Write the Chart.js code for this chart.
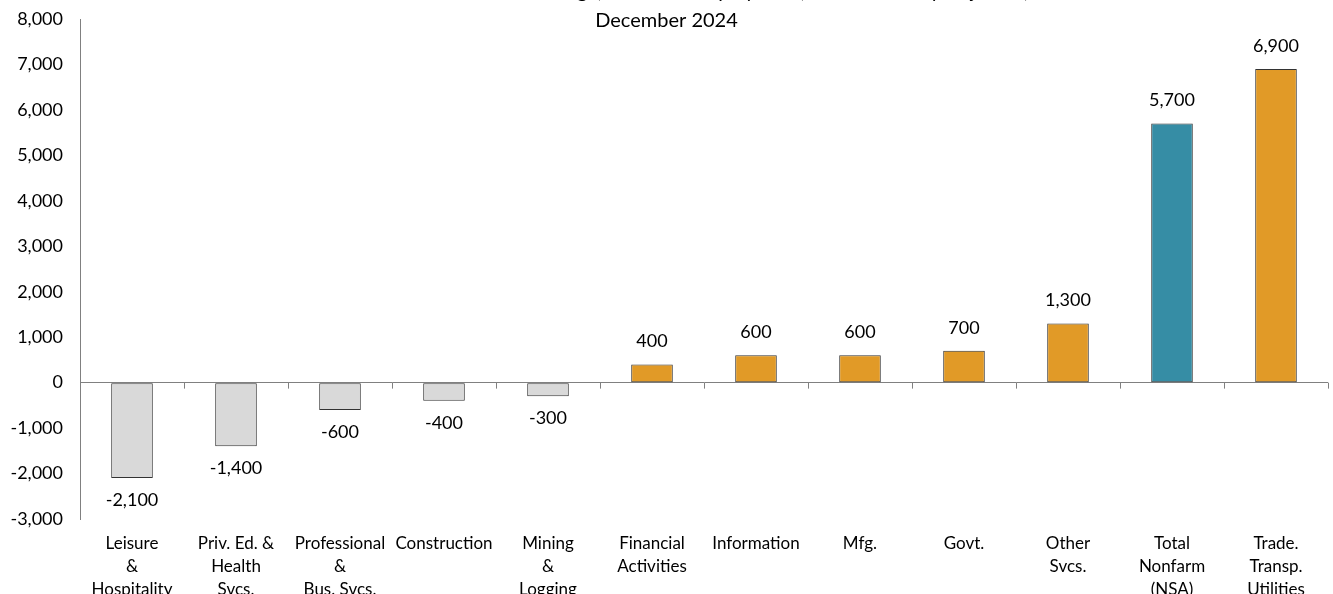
<!DOCTYPE html>
<html>
<head>
<meta charset="utf-8">
<script src="https://cdn.jsdelivr.net/npm/chart.js@4/dist/chart.umd.min.js"></script>
<style>
  html, body { margin: 0; padding: 0; background: #fff; overflow: hidden; }
  #wrap { position: absolute; left: 0; top: -20px; width: 1333px; height: 636px; }
</style>
</head>
<body>
<div id="wrap"><canvas id="jobs"></canvas></div>
<script>
// values
var sectors = [
  ['Leisure', '&', 'Hospitality'],
  ['Priv. Ed. &', 'Health', 'Svcs.'],
  ['Professional', '&', 'Bus. Svcs.'],
  ['Construction'],
  ['Mining', '&', 'Logging'],
  ['Financial', 'Activities'],
  ['Information'],
  ['Mfg.'],
  ['Govt.'],
  ['Other', 'Svcs.'],
  ['Total', 'Nonfarm', '(NSA)'],
  ['Trade.', 'Transp.', 'Utilities']
];
var change = [-2100, -1400, -600, -400, -300, 400, 600, 600, 700, 1300, 5700, 6900];
var titleLines = ['Chart 1: Over-the-Month Change, Nonfarm Employment, Not Seasonally Adjusted,', 'December 2024'];

var FONT = 'Lato, "Liberation Sans", sans-serif';

var barColors = change.map(function(v, i) {
  if (i === 10) return '#368DA5';
  return v < 0 ? '#D9D9D9' : '#E19A27';
});

// title drawn by hand so it does not push the plot down
var titlePlugin = {
  id: 'titleText',
  afterDraw: function(chart) {
    var c = chart.ctx;
    c.save();
    c.font = '20px ' + FONT;
    c.fillStyle = '#000';
    c.textAlign = 'center';
    c.textBaseline = 'middle';
    c.fillText(titleLines[0], chart.width / 2, 12);
    c.fillText(titleLines[1], chart.width / 2, 41);
    c.restore();
  }
};

// little tick marks under the zero line + value labels
var extras = {
  id: 'extras',
  afterDatasetsDraw: function(chart) {
    var c = chart.ctx;
    var y = chart.scales.y;
    var y0 = y.getPixelForValue(0);
    var step = (chart.chartArea.right - chart.chartArea.left) / change.length;
    c.save();
    c.strokeStyle = '#808080';
    c.lineWidth = 1;
    for (var k = 1; k <= change.length; k++) {
      var tx = Math.round(chart.chartArea.left + k * step) + 0.5;
      c.beginPath();
      c.moveTo(tx, y0);
      c.lineTo(tx, y0 + 6);
      c.stroke();
    }
    c.font = '18px ' + FONT;
    c.fillStyle = '#000';
    c.textAlign = 'center';
    c.textBaseline = 'middle';
    chart.getDatasetMeta(0).data.forEach(function(bar, i) {
      var v = change[i];
      var ly = v < 0 ? bar.y + 22 : bar.y - 23;
      c.fillText(v.toLocaleString('en-US'), bar.x, ly);
    });
    c.restore();
  }
};

new Chart(document.getElementById('jobs'), {
  type: 'bar',
  data: {
    labels: sectors,
    datasets: [{
      data: change,
      backgroundColor: barColors,
      borderColor: '#333333',
      borderWidth: 1,
      borderSkipped: false,
      barPercentage: 0.4,
      categoryPercentage: 1.0
    }]
  },
  options: {
    responsive: true,
    maintainAspectRatio: false,
    animation: false,
    layout: { padding: { top: 39, right: 5, left: 0, bottom: 2 } },
    plugins: {
      legend: { display: false },
      tooltip: { enabled: false }
    },
    scales: {
      x: {
        grid: { display: false, drawTicks: false },
        border: { display: false },
        ticks: {
          color: '#000',
          font: { family: FONT, size: 17, lineHeight: '23px' },
          padding: 13,
          maxRotation: 0,
          autoSkip: false
        }
      },
      y: {
        min: -3000,
        max: 8000,
        afterFit: function(s) { s.width = 80; },
        border: { display: true, color: '#808080', width: 1 },
        grid: {
          drawTicks: false,
          color: function(ctx) { return ctx.tick && ctx.tick.value === 0 ? '#808080' : 'rgba(0,0,0,0)'; }
        },
        ticks: {
          stepSize: 1000,
          color: '#000',
          padding: 17,
          font: { family: FONT, size: 18 },
          callback: function(v) { return v.toLocaleString('en-US'); }
        }
      }
    }
  },
  plugins: [titlePlugin, extras]
});
</script>
</body>
</html>
